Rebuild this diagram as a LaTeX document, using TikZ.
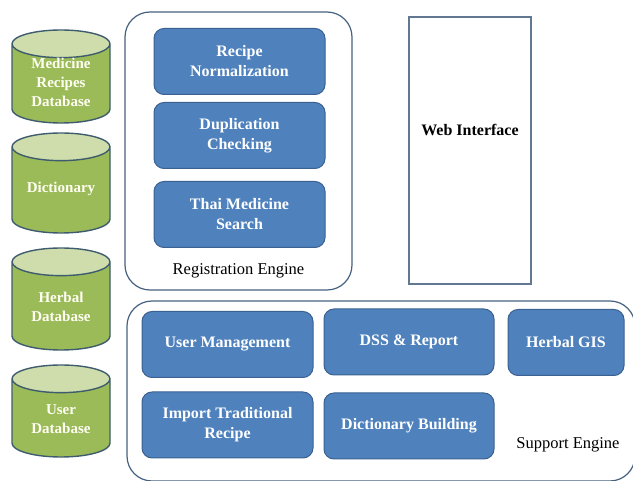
\documentclass[tikz,border=0pt]{standalone}
\usepackage{fontspec}
\setmainfont{Liberation Serif}
\usepackage{tikz}
\usetikzlibrary{shapes.geometric}
\definecolor{moduleblue}{HTML}{4F81BD}
\definecolor{moduleedge}{HTML}{3A6190}
\definecolor{dbgreen}{HTML}{9BBB59}
\definecolor{dbtop}{HTML}{CEDDAB}
\definecolor{dbedge}{HTML}{3F5C6F}
\definecolor{frameedge}{HTML}{46607F}
\newcommand{\boxfont}{\fontsize{16}{20}\selectfont\bfseries}

\begin{document}
\begin{tikzpicture}[x=1pt, y=-1pt,
        module/.style={draw=moduleedge, line width=1pt, fill=moduleblue, rounded corners=10pt,
            text=white, font=\boxfont, align=center, minimum width=171, minimum height=66},
        database/.style={cylinder, shape border rotate=90, draw=dbedge, line width=1.4pt,
            cylinder uses custom fill, cylinder body fill=dbgreen, cylinder end fill=dbtop,
            aspect=0.42, minimum width=98, anchor=shape center,
            font=\fontsize{15}{19}\selectfont\bfseries},
        dbtext/.style={text=white!95!yellow, font=\fontsize{15}{19}\selectfont\bfseries,
            align=center},
        engine/.style={draw=frameedge, line width=1.2pt, rounded corners=25pt},
        caption/.style={font=\fontsize{16.5}{20}\selectfont}]
        \clip (0, 0) rectangle (633, 481);

        % databases on the left
        \node[database, minimum height=93] (recipesdb) at (61, 76.5) {\phantom{Database}};
        \node[dbtext] (recipesdbtext) at (61, 82) {Medicine\\Recipes\\Database};
        \node[database, minimum height=100] (dictdb) at (61, 183) {\phantom{Database}};
        \node[dbtext] (dictdbtext) at (61, 189) {Dictionary};
        \node[database, minimum height=102] (herbaldb) at (61, 299) {\phantom{Database}};
        \node[dbtext] (herbaldbtext) at (61, 306.5) {Herbal\\Database};
        \node[database, minimum height=92] (userdb) at (61, 411) {\phantom{Database}};
        \node[dbtext] (userdbtext) at (61, 419) {User\\Database};

        % registration engine
        \node[engine, minimum width=227, minimum height=278] (reg) at (238.5, 151) {};
        \node[module] (norm) at (239.5, 61.5) {Recipe\\Normalization};
        \node[module] (dup) at (239.5, 135.5) {Duplication\\Checking};
        \node[module] (search) at (239.5, 214.5) {Thai Medicine\\Search};
        \node[caption] (reglabel) at (238.5, 271) {Registration Engine};

        % web interface
        \node[draw=frameedge!85, line width=1.8pt, minimum width=122, minimum height=267]
        (web) at (470, 150.5) {};
        \node[font=\boxfont] (weblabel) at (470, 130) {Web Interface};

        % support engine
        \node[engine, minimum width=508, minimum height=180] (support) at (381, 391) {};
        \node[module] (users) at (227.5, 344.5) {User Management};
        \node[module, minimum width=170] (dss) at (409, 342) {DSS \& Report};
        \node[module, minimum width=116] (gis) at (566, 342.5) {Herbal GIS};
        \node[module] (import) at (227.5, 425) {Import Traditional\\Recipe};
        \node[module, minimum width=170] (dictbuild) at (409, 426) {Dictionary Building};
        \node[caption] (suplabel) at (568, 445) {Support Engine};

    \end{tikzpicture}
\end{document}
